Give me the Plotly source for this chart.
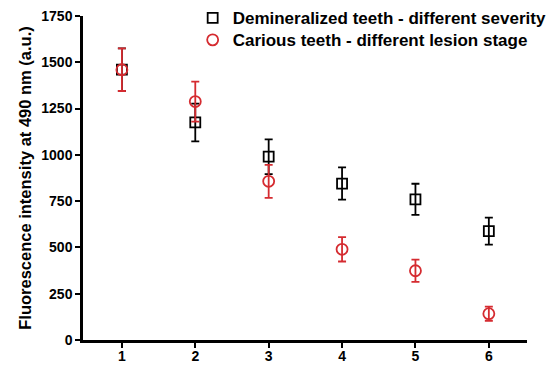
import plotly.graph_objects as go

stages = [1, 2, 3, 4, 5, 6]
demin_mean = [1460, 1175, 990, 845, 760, 588]
demin_err = [115, 102, 94, 87, 84, 73]
carious_mean = [1460, 1288, 857, 490, 374, 142]
carious_err = [115, 108, 89, 66, 60, 38]
y_ticks = [0, 250, 500, 750, 1000, 1250, 1500, 1750]

RED = "#d52b30"
FONT = "Liberation Sans, Arial, sans-serif"

fig = go.Figure()
fig.add_trace(go.Scatter(
    x=stages, y=demin_mean, mode="markers",
    name="Demineralized teeth - different severity", legend="legend",
    marker=dict(symbol="square-open", size=10, color="black", line=dict(width=1.8, color="black")),
    error_y=dict(type="data", array=demin_err, color="black", thickness=1.8, width=4),
))
fig.add_trace(go.Scatter(
    x=stages, y=carious_mean, mode="markers",
    name="Carious teeth - different lesion stage", legend="legend2",
    marker=dict(symbol="circle-open", size=11, color=RED, line=dict(width=1.8, color=RED)),
    error_y=dict(type="data", array=carious_err, color=RED, thickness=1.8, width=4),
))

leg_common = dict(xanchor="left", yanchor="middle",
                  font=dict(family=FONT, size=17, weight="bold"),
                  bgcolor="rgba(0,0,0,0)")

fig.update_layout(
    width=557, height=365,
    margin=dict(l=83, r=30, t=16, b=25, autoexpand=False),
    paper_bgcolor="white", plot_bgcolor="white",
    font=dict(family=FONT, size=14, color="black"),
    showlegend=True,
    legend=dict(x=0.247, y=0.993, **leg_common),
    legend2=dict(x=0.247, y=0.925, **leg_common),
    xaxis=dict(range=[0.47, 6.52], tickmode="array", tickvals=stages, automargin=False,
               showgrid=False, zeroline=False, showline=True, linecolor="black", linewidth=2.5,
               ticks="outside", ticklen=5, tickwidth=2, tickcolor="black",
               ticklabelstandoff=-4,
               tickfont=dict(family=FONT, size=14, weight="bold")),
    yaxis=dict(range=[0, 1750], tickmode="array", tickvals=y_ticks, automargin=False,
               showgrid=False, zeroline=False, showline=True, linecolor="black", linewidth=2.5,
               ticks="outside", ticklen=5, tickwidth=2, tickcolor="black",
               tickfont=dict(family=FONT, size=14, weight="bold"),
               title=dict(text="Fluorescence intensity at 490 nm (a.u.)",
                          font=dict(family=FONT, size=16.5, weight="bold"), standoff=6)),
)

fig.write_html("out.html")
